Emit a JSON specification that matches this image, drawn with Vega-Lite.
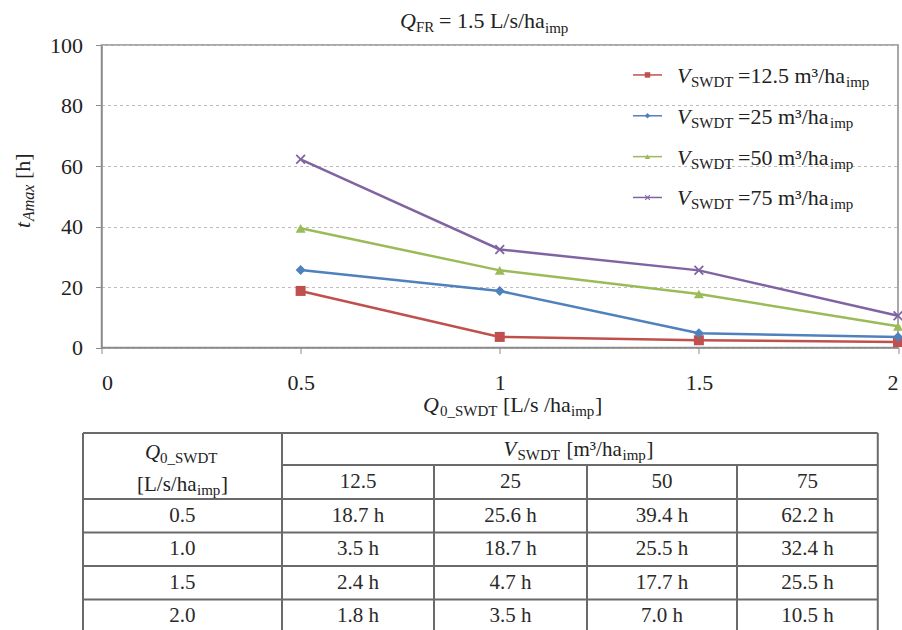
{
  "$schema": "https://vega.github.io/schema/vega-lite/v6.json",
  "autosize": {"type": "none"},
  "width": 796.5,
  "height": 302.5,
  "padding": {"left": 101.5, "top": 45, "right": 4, "bottom": 282.5},
  "background": "white",
  "config": {"view": {"stroke": "#8c8c8c", "strokeWidth": 1.5}, "text": {"font": "Liberation Serif", "color": "#222"}, "mark": {"font": "Liberation Serif"}},
  "datasets": {
    "series": [
      {"q": 0.5, "v": "12.5", "t": 18.7}, {"q": 1, "v": "12.5", "t": 3.5}, {"q": 1.5, "v": "12.5", "t": 2.4}, {"q": 2, "v": "12.5", "t": 1.8},
      {"q": 0.5, "v": "25", "t": 25.6}, {"q": 1, "v": "25", "t": 18.7}, {"q": 1.5, "v": "25", "t": 4.7}, {"q": 2, "v": "25", "t": 3.5},
      {"q": 0.5, "v": "50", "t": 39.4}, {"q": 1, "v": "50", "t": 25.5}, {"q": 1.5, "v": "50", "t": 17.7}, {"q": 2, "v": "50", "t": 7.0},
      {"q": 0.5, "v": "75", "t": 62.2}, {"q": 1, "v": "75", "t": 32.4}, {"q": 1.5, "v": "75", "t": 25.5}, {"q": 2, "v": "75", "t": 10.5}
    ],
    "legend": [
      {"v": "12.5", "ly": 90.1, "val": "=12.5 m³/ha"},
      {"v": "25", "ly": 76.6, "val": "=25 m³/ha"},
      {"v": "50", "ly": 63.1, "val": "=50 m³/ha"},
      {"v": "75", "ly": 49.6, "val": "=75 m³/ha"}
    ],
    "tlines": [
      {"x1": -0.0465, "x2": 1.9492, "y1": -28.26, "y2": -28.26},
      {"x1": 0.4533, "x2": 1.9492, "y1": -38.84, "y2": -38.84},
      {"x1": -0.0465, "x2": 1.9492, "y1": -50.08, "y2": -50.08},
      {"x1": -0.0465, "x2": 1.9492, "y1": -61.16, "y2": -61.16},
      {"x1": -0.0465, "x2": 1.9492, "y1": -72.23, "y2": -72.23},
      {"x1": -0.0465, "x2": 1.9492, "y1": -83.31, "y2": -83.31},
      {"x1": -0.0465, "x2": -0.0465, "y1": -28.26, "y2": -96.69},
      {"x1": 0.4533, "x2": 0.4533, "y1": -28.26, "y2": -96.69},
      {"x1": 0.8349, "x2": 0.8349, "y1": -38.84, "y2": -96.69},
      {"x1": 1.2191, "x2": 1.2191, "y1": -38.84, "y2": -96.69},
      {"x1": 1.5957, "x2": 1.5957, "y1": -38.84, "y2": -96.69},
      {"x1": 1.9492, "x2": 1.9492, "y1": -28.26, "y2": -96.69}
    ],
    "tcells": [
      {"c": 0.6441, "r": -44.46, "label": "12.5"}, {"c": 1.027, "r": -44.46, "label": "25"}, {"c": 1.4074, "r": -44.46, "label": "50"}, {"c": 1.7727, "r": -44.46, "label": "75"},
      {"c": 0.2033, "r": -55.7, "label": "0.5"}, {"c": 0.6441, "r": -55.7, "label": "18.7 h"}, {"c": 1.027, "r": -55.7, "label": "25.6 h"}, {"c": 1.4074, "r": -55.7, "label": "39.4 h"}, {"c": 1.7727, "r": -55.7, "label": "62.2 h"},
      {"c": 0.2033, "r": -66.61, "label": "1.0"}, {"c": 0.6441, "r": -66.61, "label": "3.5 h"}, {"c": 1.027, "r": -66.61, "label": "18.7 h"}, {"c": 1.4074, "r": -66.61, "label": "25.5 h"}, {"c": 1.7727, "r": -66.61, "label": "32.4 h"},
      {"c": 0.2033, "r": -77.85, "label": "1.5"}, {"c": 0.6441, "r": -77.85, "label": "2.4 h"}, {"c": 1.027, "r": -77.85, "label": "4.7 h"}, {"c": 1.4074, "r": -77.85, "label": "17.7 h"}, {"c": 1.7727, "r": -77.85, "label": "25.5 h"},
      {"c": 0.2033, "r": -88.76, "label": "2.0"}, {"c": 0.6441, "r": -88.76, "label": "1.8 h"}, {"c": 1.027, "r": -88.76, "label": "3.5 h"}, {"c": 1.4074, "r": -88.76, "label": "7.0 h"}, {"c": 1.7727, "r": -88.76, "label": "10.5 h"}
    ]
  },
  "layer": [
    {
      "data": {"name": "series"},
      "mark": {"type": "line", "strokeWidth": 2.5},
      "encoding": {
        "x": {"field": "q", "type": "quantitative", "scale": {"domain": [0, 2], "nice": false, "zero": false},
          "axis": {"values": [0, 0.5, 1, 1.5, 2], "format": "~g", "title": null, "grid": false, "domainColor": "#8c8c8c", "domainWidth": 1.5, "tickColor": "#8c8c8c", "tickSize": 6, "labelFont": "Liberation Serif", "labelFontSize": 22, "labelColor": "#222", "labelPadding": 19}},
        "y": {"field": "t", "type": "quantitative", "scale": {"domain": [0, 100], "nice": false, "zero": false},
          "axis": {"values": [0, 20, 40, 60, 80, 100], "title": null, "grid": true, "gridDash": [3, 3], "gridColor": "#bdbdbd", "gridWidth": 1, "domainColor": "#8c8c8c", "domainWidth": 1.5, "tickColor": "#8c8c8c", "tickSize": 6, "labelFont": "Liberation Serif", "labelFontSize": 22, "labelColor": "#222", "labelPadding": 13}},
        "color": {"field": "v", "type": "nominal", "scale": {"domain": ["12.5", "25", "50", "75"], "range": ["#C0504D", "#4F81BD", "#9BBB59", "#8064A2"]}, "legend": null}
      }
    },
    {
      "data": {"name": "series"},
      "mark": {"type": "point", "filled": true, "size": 100, "opacity": 1},
      "encoding": {
        "x": {"field": "q", "type": "quantitative", "axis": {"title": null}},
        "y": {"field": "t", "type": "quantitative", "axis": {"title": null}},
        "color": {"field": "v", "type": "nominal", "legend": null},
        "shape": {"field": "v", "type": "nominal", "scale": {"domain": ["12.5", "25", "50", "75"], "range": ["square", "diamond", "triangle-up", "M-1,-0.75L-0.75,-1L0,-0.25L0.75,-1L1,-0.75L0.25,0L1,0.75L0.75,1L0,0.25L-0.75,1L-1,0.75L-0.25,0Z"]}, "legend": null}
      }
    },
    {
      "data": {"name": "legend"},
      "mark": {"type": "rule", "strokeWidth": 1.5},
      "encoding": {
        "x": {"datum": 1.3346, "type": "quantitative", "axis": {"title": null}},
        "x2": {"datum": 1.4074},
        "y": {"field": "ly", "type": "quantitative", "axis": {"title": null}},
        "color": {"field": "v", "type": "nominal", "legend": null}
      }
    },
    {
      "data": {"name": "legend"},
      "mark": {"type": "point", "filled": true, "size": 30, "opacity": 1},
      "encoding": {
        "x": {"datum": 1.371, "type": "quantitative", "axis": {"title": null}},
        "y": {"field": "ly", "type": "quantitative", "axis": {"title": null}},
        "color": {"field": "v", "type": "nominal", "legend": null},
        "shape": {"field": "v", "type": "nominal", "legend": null}
      }
    },
    {
      "data": {"name": "legend"},
      "mark": {"type": "text", "fontSize": 22, "fontStyle": "italic", "align": "left", "baseline": "alphabetic", "dy": 8},
      "encoding": {"x": {"datum": 1.4451, "type": "quantitative", "axis": {"title": null}}, "y": {"field": "ly", "type": "quantitative", "axis": {"title": null}}, "text": {"value": "V"}}
    },
    {
      "data": {"name": "legend"},
      "mark": {"type": "text", "fontSize": 15, "align": "left", "baseline": "alphabetic", "dx": 14, "dy": 12},
      "encoding": {"x": {"datum": 1.4451, "type": "quantitative", "axis": {"title": null}}, "y": {"field": "ly", "type": "quantitative", "axis": {"title": null}}, "text": {"value": "SWDT"}}
    },
    {
      "data": {"name": "legend"},
      "mark": {"type": "text", "fontSize": 22, "align": "left", "baseline": "alphabetic", "dx": 61, "dy": 8},
      "encoding": {"x": {"datum": 1.4451, "type": "quantitative", "axis": {"title": null}}, "y": {"field": "ly", "type": "quantitative", "axis": {"title": null}}, "text": {"field": "val"}}
    },
    {
      "data": {"name": "legend"},
      "transform": [{"filter": "datum.v == '12.5'"}],
      "mark": {"type": "text", "fontSize": 15, "align": "left", "baseline": "alphabetic", "dx": 169, "dy": 12},
      "encoding": {"x": {"datum": 1.4451, "type": "quantitative", "axis": {"title": null}}, "y": {"field": "ly", "type": "quantitative", "axis": {"title": null}}, "text": {"value": "imp"}}
    },
    {
      "data": {"name": "legend"},
      "transform": [{"filter": "datum.v != '12.5'"}],
      "mark": {"type": "text", "fontSize": 15, "align": "left", "baseline": "alphabetic", "dx": 153, "dy": 12},
      "encoding": {"x": {"datum": 1.4451, "type": "quantitative", "axis": {"title": null}}, "y": {"field": "ly", "type": "quantitative", "axis": {"title": null}}, "text": {"value": "imp"}}
    },
    {
      "data": {"values": [{}]},
      "mark": {"type": "text", "fontSize": 22, "fontStyle": "italic", "align": "left", "baseline": "alphabetic"},
      "encoding": {"x": {"datum": 0.7495, "type": "quantitative", "axis": {"title": null}}, "y": {"datum": 105.52, "type": "quantitative", "axis": {"title": null}}, "text": {"value": "Q"}}
    },
    {
      "data": {"values": [{}]},
      "mark": {"type": "text", "fontSize": 15, "align": "left", "baseline": "alphabetic", "dx": 16, "dy": 4},
      "encoding": {"x": {"datum": 0.7495, "type": "quantitative", "axis": {"title": null}}, "y": {"datum": 105.52, "type": "quantitative", "axis": {"title": null}}, "text": {"value": "FR"}}
    },
    {
      "data": {"values": [{}]},
      "mark": {"type": "text", "fontSize": 22, "align": "left", "baseline": "alphabetic", "dx": 39},
      "encoding": {"x": {"datum": 0.7495, "type": "quantitative", "axis": {"title": null}}, "y": {"datum": 105.52, "type": "quantitative", "axis": {"title": null}}, "text": {"value": "= 1.5 L/s/ha"}}
    },
    {
      "data": {"values": [{}]},
      "mark": {"type": "text", "fontSize": 15, "align": "left", "baseline": "alphabetic", "dx": 145, "dy": 5},
      "encoding": {"x": {"datum": 0.7495, "type": "quantitative", "axis": {"title": null}}, "y": {"datum": 105.52, "type": "quantitative", "axis": {"title": null}}, "text": {"value": "imp"}}
    },
    {
      "data": {"values": [{}]},
      "mark": {"type": "text", "fontSize": 22, "fontStyle": "italic", "align": "left", "baseline": "alphabetic"},
      "encoding": {"x": {"datum": 0.8073, "type": "quantitative", "axis": {"title": null}}, "y": {"datum": -21.32, "type": "quantitative", "axis": {"title": null}}, "text": {"value": "Q"}}
    },
    {
      "data": {"values": [{}]},
      "mark": {"type": "text", "fontSize": 15, "align": "left", "baseline": "alphabetic", "dx": 17, "dy": 4},
      "encoding": {"x": {"datum": 0.8073, "type": "quantitative", "axis": {"title": null}}, "y": {"datum": -21.32, "type": "quantitative", "axis": {"title": null}}, "text": {"value": "0_SWDT"}}
    },
    {
      "data": {"values": [{}]},
      "mark": {"type": "text", "fontSize": 22, "align": "left", "baseline": "alphabetic", "dx": 80},
      "encoding": {"x": {"datum": 0.8073, "type": "quantitative", "axis": {"title": null}}, "y": {"datum": -21.32, "type": "quantitative", "axis": {"title": null}}, "text": {"value": "[L/s /ha"}}
    },
    {
      "data": {"values": [{}]},
      "mark": {"type": "text", "fontSize": 15, "align": "left", "baseline": "alphabetic", "dx": 148, "dy": 4},
      "encoding": {"x": {"datum": 0.8073, "type": "quantitative", "axis": {"title": null}}, "y": {"datum": -21.32, "type": "quantitative", "axis": {"title": null}}, "text": {"value": "imp"}}
    },
    {
      "data": {"values": [{}]},
      "mark": {"type": "text", "fontSize": 22, "align": "left", "baseline": "alphabetic", "dx": 172},
      "encoding": {"x": {"datum": 0.8073, "type": "quantitative", "axis": {"title": null}}, "y": {"datum": -21.32, "type": "quantitative", "axis": {"title": null}}, "text": {"value": "]"}}
    },
    {
      "data": {"values": [{}]},
      "mark": {"type": "text", "fontSize": 22, "fontStyle": "italic", "align": "left", "baseline": "alphabetic", "angle": 270},
      "encoding": {"x": {"datum": -0.1795, "type": "quantitative", "axis": {"title": null}}, "y": {"datum": 39.5, "type": "quantitative", "axis": {"title": null}}, "text": {"value": "t"}}
    },
    {
      "data": {"values": [{}]},
      "mark": {"type": "text", "fontSize": 16, "fontStyle": "italic", "align": "left", "baseline": "alphabetic", "angle": 270, "dx": 7, "dy": 4},
      "encoding": {"x": {"datum": -0.1795, "type": "quantitative", "axis": {"title": null}}, "y": {"datum": 39.5, "type": "quantitative", "axis": {"title": null}}, "text": {"value": "Amax"}}
    },
    {
      "data": {"values": [{}]},
      "mark": {"type": "text", "fontSize": 22, "align": "left", "baseline": "alphabetic", "angle": 270, "dx": 49},
      "encoding": {"x": {"datum": -0.1795, "type": "quantitative", "axis": {"title": null}}, "y": {"datum": 39.5, "type": "quantitative", "axis": {"title": null}}, "text": {"value": "[h]"}}
    },
    {
      "data": {"name": "tlines"},
      "mark": {"type": "rule", "color": "#6a6a6a", "strokeWidth": 2},
      "encoding": {
        "x": {"field": "x1", "type": "quantitative", "axis": {"title": null}},
        "x2": {"field": "x2"},
        "y": {"field": "y1", "type": "quantitative", "axis": {"title": null}},
        "y2": {"field": "y2"}
      }
    },
    {
      "data": {"name": "tcells"},
      "mark": {"type": "text", "fontSize": 21, "align": "center", "baseline": "middle", "color": "#2a2a2a"},
      "encoding": {
        "x": {"field": "c", "type": "quantitative", "axis": {"title": null}},
        "y": {"field": "r", "type": "quantitative", "axis": {"title": null}},
        "text": {"field": "label"}
      }
    },
    {
      "data": {"values": [{}]},
      "mark": {"type": "text", "fontSize": 21, "fontStyle": "italic", "align": "left", "baseline": "alphabetic"},
      "encoding": {"x": {"datum": 0.1092, "type": "quantitative", "axis": {"title": null}}, "y": {"datum": -36.96, "type": "quantitative", "axis": {"title": null}}, "text": {"value": "Q"}}
    },
    {
      "data": {"values": [{}]},
      "mark": {"type": "text", "fontSize": 15, "align": "left", "baseline": "alphabetic", "dx": 15, "dy": 4},
      "encoding": {"x": {"datum": 0.1092, "type": "quantitative", "axis": {"title": null}}, "y": {"datum": -36.96, "type": "quantitative", "axis": {"title": null}}, "text": {"value": "0_SWDT"}}
    },
    {
      "data": {"values": [{}]},
      "mark": {"type": "text", "fontSize": 21, "align": "left", "baseline": "alphabetic"},
      "encoding": {"x": {"datum": 0.0891, "type": "quantitative", "axis": {"title": null}}, "y": {"datum": -47.44, "type": "quantitative", "axis": {"title": null}}, "text": {"value": "[L/s/ha"}}
    },
    {
      "data": {"values": [{}]},
      "mark": {"type": "text", "fontSize": 15, "align": "left", "baseline": "alphabetic", "dx": 60, "dy": 4},
      "encoding": {"x": {"datum": 0.0891, "type": "quantitative", "axis": {"title": null}}, "y": {"datum": -47.44, "type": "quantitative", "axis": {"title": null}}, "text": {"value": "imp"}}
    },
    {
      "data": {"values": [{}]},
      "mark": {"type": "text", "fontSize": 21, "align": "left", "baseline": "alphabetic", "dx": 84},
      "encoding": {"x": {"datum": 0.0891, "type": "quantitative", "axis": {"title": null}}, "y": {"datum": -47.44, "type": "quantitative", "axis": {"title": null}}, "text": {"value": "]"}}
    },
    {
      "data": {"values": [{}]},
      "mark": {"type": "text", "fontSize": 21, "fontStyle": "italic", "align": "left", "baseline": "alphabetic"},
      "encoding": {"x": {"datum": 1.0094, "type": "quantitative", "axis": {"title": null}}, "y": {"datum": -35.8, "type": "quantitative", "axis": {"title": null}}, "text": {"value": "V"}}
    },
    {
      "data": {"values": [{}]},
      "mark": {"type": "text", "fontSize": 15, "align": "left", "baseline": "alphabetic", "dx": 14, "dy": 4},
      "encoding": {"x": {"datum": 1.0094, "type": "quantitative", "axis": {"title": null}}, "y": {"datum": -35.8, "type": "quantitative", "axis": {"title": null}}, "text": {"value": "SWDT"}}
    },
    {
      "data": {"values": [{}]},
      "mark": {"type": "text", "fontSize": 21, "align": "left", "baseline": "alphabetic", "dx": 63},
      "encoding": {"x": {"datum": 1.0094, "type": "quantitative", "axis": {"title": null}}, "y": {"datum": -35.8, "type": "quantitative", "axis": {"title": null}}, "text": {"value": "[m³/ha"}}
    },
    {
      "data": {"values": [{}]},
      "mark": {"type": "text", "fontSize": 15, "align": "left", "baseline": "alphabetic", "dx": 119, "dy": 4},
      "encoding": {"x": {"datum": 1.0094, "type": "quantitative", "axis": {"title": null}}, "y": {"datum": -35.8, "type": "quantitative", "axis": {"title": null}}, "text": {"value": "imp"}}
    },
    {
      "data": {"values": [{}]},
      "mark": {"type": "text", "fontSize": 21, "align": "left", "baseline": "alphabetic", "dx": 143},
      "encoding": {"x": {"datum": 1.0094, "type": "quantitative", "axis": {"title": null}}, "y": {"datum": -35.8, "type": "quantitative", "axis": {"title": null}}, "text": {"value": "]"}}
    }
  ]
}
